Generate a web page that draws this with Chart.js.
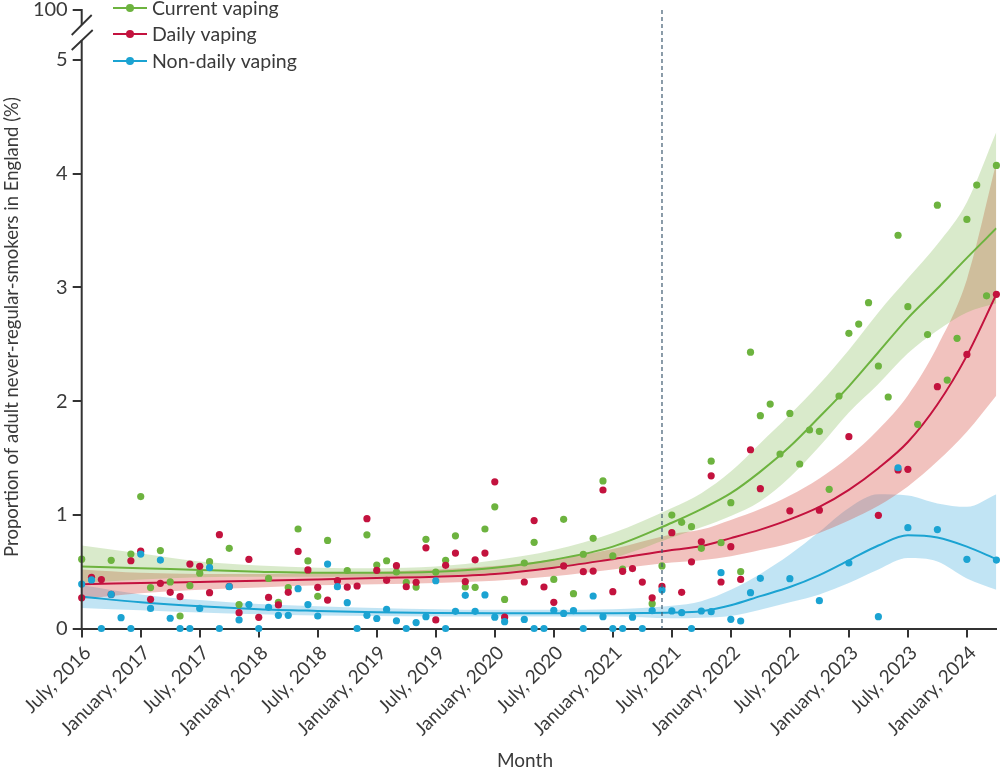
<!DOCTYPE html>
<html><head><meta charset="utf-8">
<script src="https://cdn.jsdelivr.net/npm/chart.js@4.4.1/dist/chart.umd.min.js"></script>
<style>html,body{margin:0;padding:0;background:#fff;}canvas{display:block;}</style>
</head><body>
<canvas id="c" width="1000" height="772"></canvas>
<script>
// ---------- DATA ----------
// month index: 0 = July 2016 ... 93 = April 2024
const tickMonths = [0,6,12,18,24,30,36,42,48,54,60,66,72,78,84,90];
const tickLabels = ['July, 2016','January, 2017','July, 2017','January, 2018','July, 2018','January, 2019','July, 2019','January, 2020','July, 2020','January, 2021','July, 2021','January, 2022','July, 2022','January, 2023','July, 2023','January, 2024'];
const yTicks = [0,1,2,3,4,5];
const yBreakLabel = '100';
const policyMonth = 59; // dashed reference line (June 2021)

const currentVaping = [0.61,null,null,0.60,null,0.655,1.16,0.36,0.685,0.41,0.11,0.377,0.487,0.588,null,0.705,0.21,null,null,0.44,
 0.23,0.36,0.875,0.594,0.283,0.775,null,0.51,null,0.824,0.558,0.596,0.497,0.405,0.364,0.784,0.496,0.60,0.815,0.365,
 0.362,0.875,1.07,0.256,null,0.576,0.758,null,0.432,0.96,0.306,0.653,0.793,1.298,0.638,0.522,null,null,0.218,0.55,
 0.998,0.934,0.896,0.705,1.472,0.755,1.107,0.50,2.43,1.872,1.974,1.535,1.892,1.447,1.746,1.734,1.224,2.045,2.596,2.678,
 2.866,2.309,2.036,3.459,2.831,1.796,2.585,3.723,2.185,2.552,3.598,3.90,2.926,4.073];
const dailyVaping = [0.27,0.45,0.43,0.30,null,0.596,0.68,0.257,0.397,0.318,0.28,0.567,0.547,0.315,0.825,0.37,0.139,0.608,0.098,0.273,
 0.207,0.318,0.678,0.515,0.362,0.25,0.421,0.364,0.374,0.966,0.512,0.424,0.553,0.367,0.407,0.71,0.075,0.556,0.663,0.412,
 0.604,0.663,1.29,0.10,null,0.409,0.949,0.365,0.23,0.55,null,0.50,0.505,1.218,0.324,0.503,0.527,0.408,0.27,0.37,
 0.843,0.318,0.586,0.763,1.343,0.409,0.72,0.432,1.572,1.23,null,null,1.035,null,null,1.041,null,null,1.687,null,
 null,0.995,null,1.394,1.40,null,null,2.127,null,null,2.411,null,null,2.939];
const nonDailyVaping = [0.391,0.427,0,0.30,0.095,0,0.655,0.177,0.602,0.09,0,0,0.177,0.535,0,0.368,0.075,0.21,0,0.186,
 0.116,0.116,0.35,0.21,0.11,0.567,0.368,0.227,0,0.116,0.088,0.168,0.068,0,0.052,0.104,0.42,0,0.151,0.292,
 0.151,0.295,0.10,0.06,null,0.08,0,0,0.16,0.133,0.157,0,0.286,0.104,0,0,0.10,0,0.157,0.338,
 0.155,0.139,0,0.154,0.148,0.491,0.081,0.066,0.315,0.441,null,null,0.438,null,null,0.245,null,null,0.576,null,
 null,0.104,null,1.414,0.887,null,null,0.87,null,null,0.608,null,null,0.602];

const fitMonths = [0,6,12,18,24,30,36,42,48,54,60,63,66,69,72,75,78,81,84,87,90,93];
const currentFit  = [0.545,0.53,0.515,0.50,0.49,0.49,0.50,0.535,0.605,0.72,0.93,1.05,1.19,1.38,1.60,1.86,2.13,2.43,2.73,2.99,3.26,3.52];
const currentLow  = [0.40,0.43,0.45,0.455,0.455,0.455,0.465,0.49,0.535,0.62,0.80,0.89,0.99,1.12,1.33,1.60,1.90,2.15,2.42,2.62,2.78,2.86];
const currentHigh = [0.73,0.66,0.59,0.555,0.535,0.53,0.545,0.60,0.69,0.84,1.06,1.19,1.38,1.63,1.88,2.15,2.45,2.78,3.08,3.38,3.75,4.37];
const dailyFit  = [0.39,0.40,0.41,0.42,0.432,0.445,0.456,0.48,0.535,0.61,0.69,0.725,0.795,0.87,0.96,1.07,1.22,1.41,1.64,1.97,2.40,2.94];
const dailyLow  = [0.26,0.31,0.34,0.36,0.38,0.39,0.40,0.42,0.46,0.52,0.58,0.60,0.635,0.69,0.75,0.84,0.95,1.08,1.25,1.47,1.73,2.05];
const dailyHigh = [0.52,0.49,0.48,0.48,0.485,0.50,0.52,0.55,0.61,0.70,0.83,0.87,0.955,1.05,1.17,1.32,1.51,1.75,2.05,2.48,3.07,4.10];
const nonDailyFit  = [0.28,0.23,0.195,0.17,0.155,0.143,0.137,0.135,0.135,0.135,0.14,0.152,0.205,0.285,0.365,0.47,0.60,0.73,0.82,0.80,0.72,0.61];
const nonDailyLow  = [0.18,0.16,0.14,0.125,0.115,0.11,0.105,0.105,0.105,0.105,0.09,0.095,0.11,0.165,0.23,0.30,0.40,0.52,0.62,0.59,0.44,0.34];
const nonDailyHigh = [0.38,0.30,0.25,0.215,0.195,0.18,0.17,0.165,0.165,0.17,0.20,0.24,0.34,0.48,0.65,0.85,1.06,1.18,1.17,1.10,1.07,1.18];

const seriesNames = ['Current vaping','Daily vaping','Non-daily vaping'];
const xTitle = 'Month';
const yTitle = 'Proportion of adult never-regular-smokers in England (%)';

// ---------- STYLE ----------
const FONT = 'Lato, "Noto Sans", sans-serif';
const TXT = '#3a3a3a';
const AX = '#333333';
const COL = {g:'#6db33f', r:'#c3123e', b:'#1ba3d2'};
const BAND = {g:'rgba(120,180,70,0.28)', r:'rgba(215,85,75,0.36)', b:'rgba(50,165,220,0.30)'};
const Y_TOP = 5.44;   // position of the broken "100" tick

const pts = arr => arr.map((v,i)=> v==null?null:{x:i,y:v}).filter(p=>p);
const fitPts = arr => fitMonths.map((m,i)=>({x:m,y:arr[i]}));

function band(arr, color, fill){
  return {data:fitPts(arr), borderWidth:0, pointRadius:0, backgroundColor:color, fill:fill,
          cubicInterpolationMode:'monotone', order:10, clip:0};
}
function fitLine(arr, color){
  return {data:fitPts(arr), borderColor:color, borderWidth:2, pointRadius:0, fill:false,
          cubicInterpolationMode:'monotone', order:5, clip:0};
}
function dots(arr, color, order){
  return {data:pts(arr), showLine:false, pointRadius:3.6, pointHoverRadius:3.6, pointBorderWidth:0,
          backgroundColor:color, borderColor:color, order:order, clip:6};
}

const overlay = {
  id:'overlay',
  afterDraw(chart){
    const ctx = chart.ctx;
    const xs = chart.scales.x, ys = chart.scales.y;
    ctx.save();
    // y axis with break
    const ax = ys.right;
    const yt = ys.getPixelForValue(Y_TOP);
    ctx.strokeStyle = AX; ctx.lineWidth = 2; ctx.lineCap='butt';
    ctx.beginPath();
    ctx.moveTo(ax, yt-1); ctx.lineTo(ax, yt+15);
    ctx.moveTo(ax, yt+30); ctx.lineTo(ax, ys.getPixelForValue(0)+1);
    ctx.stroke();
    ctx.lineWidth = 1.8;
    ctx.beginPath();
    ctx.moveTo(ax-10, yt+25); ctx.lineTo(ax+10, yt+5);
    ctx.moveTo(ax-10, yt+40); ctx.lineTo(ax+11, yt+20);
    ctx.stroke();
    // dashed reference line
    const px = xs.getPixelForValue(policyMonth);
    ctx.strokeStyle = '#3e5a70'; ctx.lineWidth = 1.2; ctx.setLineDash([4,3]);
    ctx.beginPath(); ctx.moveTo(px, yt); ctx.lineTo(px, ys.getPixelForValue(0)); ctx.stroke();
    ctx.setLineDash([]);
    // legend
    const cols = [COL.g, COL.r, COL.b];
    const rows = [8, 34, 61];
    ctx.font = '19.5px ' + FONT; ctx.textBaseline='middle'; ctx.textAlign='left';
    for(let i=0;i<3;i++){
      ctx.strokeStyle = cols[i]; ctx.lineWidth = 2;
      ctx.beginPath(); ctx.moveTo(113, rows[i]); ctx.lineTo(147, rows[i]); ctx.stroke();
      ctx.fillStyle = cols[i];
      ctx.beginPath(); ctx.arc(130, rows[i], 4, 0, Math.PI*2); ctx.fill();
      ctx.fillStyle = TXT;
      ctx.fillText(seriesNames[i], 152, rows[i]+1);
    }
    // axis titles
    ctx.fillStyle = TXT; ctx.font = '19px ' + FONT; ctx.textAlign='center'; ctx.textBaseline='middle';
    ctx.fillText(xTitle, 525, 761);
    ctx.font = '18.5px ' + FONT;
    ctx.translate(12, 327); ctx.rotate(-Math.PI/2);
    ctx.fillText(yTitle, 0, 0);
    ctx.restore();
  }
};

new Chart(document.getElementById('c'), {
  type:'line',
  data:{datasets:[
    band(currentLow, BAND.g, false), band(currentHigh, BAND.g, '-1'),
    band(dailyLow, BAND.r, false), band(dailyHigh, BAND.r, '-1'),
    band(nonDailyLow, BAND.b, false), band(nonDailyHigh, BAND.b, '-1'),
    fitLine(currentFit, COL.g), fitLine(dailyFit, COL.r), fitLine(nonDailyFit, COL.b),
    dots(currentVaping, COL.g, 3), dots(dailyVaping, COL.r, 2), dots(nonDailyVaping, COL.b, 1)
  ]},
  options:{
    responsive:false, animation:false, devicePixelRatio:1,
    layout:{padding:{left:0,right:3,top:10,bottom:0}},
    plugins:{legend:{display:false}, tooltip:{enabled:false}},
    scales:{
      x:{type:'linear', min:0, max:93,
        afterBuildTicks:s=>{ s.ticks = tickMonths.map(v=>({value:v})); },
        ticks:{callback:(v,i)=>tickLabels[i], minRotation:45, maxRotation:45, autoSkip:false,
               font:{family:FONT,size:19}, color:TXT, padding:4, labelOffset:6},
        grid:{drawOnChartArea:false, drawTicks:true, tickLength:9, color:AX, lineWidth:2},
        border:{display:true, color:AX, width:2},
        afterFit:s=>{ s.height = 143.5; s.paddingLeft=0; s.paddingRight=0; }
      },
      y:{type:'linear', min:0, max:Y_TOP,
        afterBuildTicks:s=>{ s.ticks = yTicks.concat([Y_TOP]).map(v=>({value:v})); },
        ticks:{callback:v=> v===Y_TOP ? yBreakLabel : String(v), autoSkip:false,
               font:{family:FONT,size:20}, color:TXT, padding:5},
        grid:{drawOnChartArea:false, drawTicks:true, tickLength:9, color:AX, lineWidth:2},
        border:{display:false},
        afterFit:s=>{ s.width = 81.7; s.paddingTop=0; s.paddingBottom=0; }
      }
    }
  },
  plugins:[overlay]
});
</script>
</body></html>
